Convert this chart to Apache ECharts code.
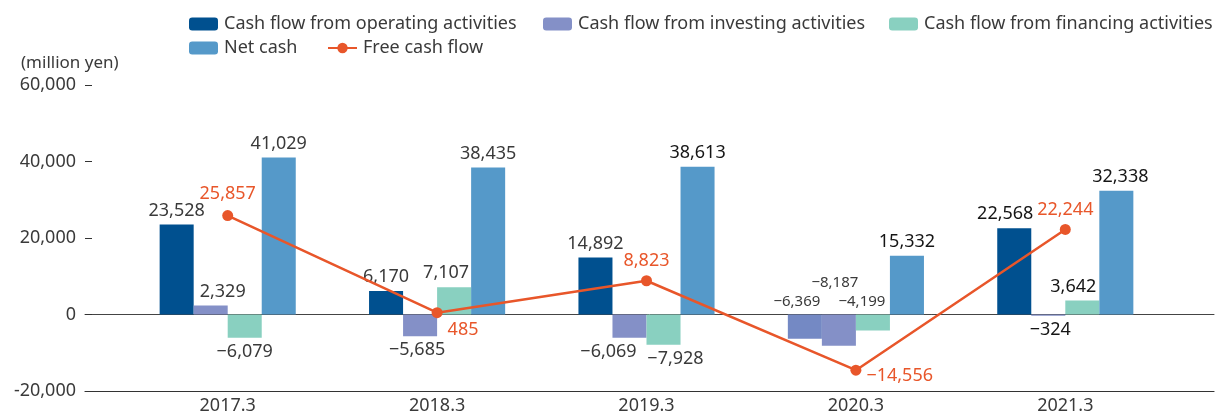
<!DOCTYPE html>
<html><head><meta charset="utf-8">
<script src="https://cdn.jsdelivr.net/npm/echarts@6/dist/echarts.min.js"></script>
<style>html,body{margin:0;padding:0;background:#fff}#c{width:1215px;height:417px}</style>
</head><body><div id="c"></div>
<script>
const categories = ['2017.3', '2018.3', '2019.3', '2020.3', '2021.3'];
const operating = [23528, 6170, 14892, -6369, 22568];
const investing = [2329, -5685, -6069, -8187, -324];
const financing = [-6079, 7107, -7928, -4199, 3642];
const netCash = [41029, 38435, 38613, 15332, 32338];
const freeCashFlow = [25857, 485, 8823, -14556, 22244];
const yMin = -20000, yMax = 60000, yStep = 20000;

const FONT = 'Noto Sans';
const TXT = '#3a3a3a';
const DARK = '#151515';
const ORANGE = '#e8562a';
const C_OP = '#00508f', C_OP_ALT = '#7489c4', C_INV = '#8490c7', C_FIN = '#89d0c0', C_NET = '#5599c9';

function fmt(v) {
  const s = Math.abs(v).toLocaleString('en-US');
  return v < 0 ? '\u2212' + s : s;
}

// per-item label tweaks (styling only)
const tweaks = {
  op: {3: {position: 'top', offset: [-8, 0], fontSize: 15}, 4: {offset: [-9, 0], color: DARK}},
  inv: {0: {offset: [12, 0]}, 1: {offset: [-3, 0]}, 2: {offset: [-21, 0]}, 3: {position: 'top', offset: [-4, -19], fontSize: 15}, 4: {color: DARK, offset: [2, 0]}},
  fin: {1: {offset: [-8, 0]}, 2: {offset: [12, 0]}, 3: {position: 'top', offset: [-11, 0], fontSize: 15}, 4: {offset: [-9, 0], color: DARK}},
  net: {2: {color: DARK}, 3: {color: DARK}, 4: {color: DARK, offset: [4, 0]}},
  fcf: {0: {offset: [0, -2]}, 1: {position: 'right', offset: [0, 17]}, 3: {position: 'right', offset: [0, 6]}}
};

function barData(vals, key, colorOverride) {
  return vals.map((v, i) => {
    const t = tweaks[key][i] || {};
    const item = {
      value: v,
      label: Object.assign({position: v >= 0 ? 'top' : 'bottom'}, t)
    };
    if (colorOverride && colorOverride[i]) item.itemStyle = {color: colorOverride[i]};
    return item;
  });
}

const labelBase = {
  show: true, fontFamily: FONT, fontSize: 18, color: TXT, distance: 5,
  formatter: p => fmt(p.value)
};

function legend(name, left, top) {
  return {
    data: [name], left: left, top: top, itemWidth: 29, itemHeight: 13, itemGap: 0,
    textStyle: {fontFamily: FONT, fontSize: 18, color: TXT, padding: [0, 0, 0, 1]},
    selectedMode: false
  };
}

const option = {
  animation: false,
  backgroundColor: '#fff',
  title: {text: '(million yen)', left: 16, top: 50,
    textStyle: {fontFamily: FONT, fontSize: 17, fontWeight: 'normal', color: TXT}},
  legend: [
    legend('Cash flow from operating activities', 184, 10),
    legend('Cash flow from investing activities', 538, 10),
    legend('Cash flow from financing activities', 884, 10),
    legend('Net cash', 184, 34),
    legend('Free cash flow', 322, 34)
  ],
  grid: [
    {left: 123, right: 45, top: 85, bottom: 26},
    {left: 85, right: 1, top: 85, bottom: 26}
  ],
  xAxis: [
    {type: 'category', gridIndex: 0, data: categories,
      axisLine: {show: false}, axisTick: {show: false},
      axisLabel: {margin: 6, fontFamily: FONT, fontSize: 18, color: TXT}},
    {type: 'value', gridIndex: 1, min: 0, max: 1, position: 'bottom',
      axisLine: {show: true, onZero: false, lineStyle: {color: '#333', width: 1.2}},
      axisTick: {show: false}, axisLabel: {show: false}, splitLine: {show: false}},
    {type: 'value', gridIndex: 1, min: 0, max: 1,
      axisLine: {show: true, onZero: true, lineStyle: {color: '#444', width: 1}},
      axisTick: {show: false}, axisLabel: {show: false}, splitLine: {show: false}}
  ],
  yAxis: [
    {type: 'value', gridIndex: 0, min: yMin, max: yMax, interval: yStep, show: false},
    {type: 'value', gridIndex: 1, min: yMin, max: yMax, interval: yStep,
      axisLine: {show: false},
      axisTick: {show: true, inside: true, length: 7, lineStyle: {color: '#333'}},
      splitLine: {show: false},
      axisLabel: {margin: 9, fontFamily: FONT, fontSize: 18, color: TXT,
        formatter: v => v.toLocaleString('en-US')}}
  ],
  series: [
    {name: 'Cash flow from operating activities', type: 'bar', xAxisIndex: 0, yAxisIndex: 0,
      barGap: '0%', barCategoryGap: '35%', itemStyle: {color: C_OP}, label: labelBase,
      data: barData(operating, 'op', {3: C_OP_ALT})},
    {name: 'Cash flow from investing activities', type: 'bar', xAxisIndex: 0, yAxisIndex: 0,
      barGap: '0%', barCategoryGap: '35%', itemStyle: {color: C_INV}, label: labelBase,
      data: barData(investing, 'inv')},
    {name: 'Cash flow from financing activities', type: 'bar', xAxisIndex: 0, yAxisIndex: 0,
      barGap: '0%', barCategoryGap: '35%', itemStyle: {color: C_FIN}, label: labelBase,
      data: barData(financing, 'fin')},
    {name: 'Net cash', type: 'bar', xAxisIndex: 0, yAxisIndex: 0,
      barGap: '0%', barCategoryGap: '35%', itemStyle: {color: C_NET}, label: labelBase,
      data: barData(netCash, 'net')},
    {name: 'Free cash flow', type: 'line', xAxisIndex: 0, yAxisIndex: 0, z: 5,
      symbol: 'circle', symbolSize: 11,
      lineStyle: {color: ORANGE, width: 2.5}, itemStyle: {color: ORANGE},
      label: Object.assign({}, labelBase, {color: ORANGE}),
      data: freeCashFlow.map((v, i) => ({value: v, label: Object.assign({position: 'top'}, tweaks.fcf[i] || {})}))}
  ]
};

const chart = echarts.init(document.getElementById('c'), null, {renderer: 'canvas'});
chart.setOption(option);
</script>
</body></html>
